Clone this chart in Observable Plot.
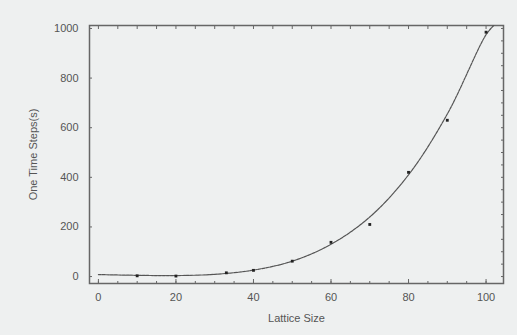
<!DOCTYPE html>
<html>
<head>
<meta charset="utf-8">
<script src="https://cdn.jsdelivr.net/npm/d3@7"></script>
<script src="https://cdn.jsdelivr.net/npm/@observablehq/plot@0.6"></script>
<style>
  html, body { margin: 0; padding: 0; background: #eef0f0; }
  #chart { width: 517px; height: 335px; }
</style>
</head>
<body>
<div id="chart"></div>
<script>
// Measured data points (lattice size, time steps)
const sizes = [10, 20, 33, 40, 50, 60, 70, 80, 90, 100];
const steps = [3, 2, 15, 25, 62, 138, 210, 420, 630, 985];

// Fitted curve
const curveX = [0, 10, 20, 30, 40, 50, 60, 70, 80, 90, 100, 102];
const curveY = [8, 5, 4, 9, 26, 62, 130, 240, 410, 655, 975, 1012];

const xMajor = [0, 20, 40, 60, 80, 100];
const xMinor = d3.range(0, 105, 5);
const yMajor = [0, 200, 400, 600, 800, 1000];
const yMinor = d3.range(0, 1050, 50);

const points = sizes.map((s, i) => ({size: s, steps: steps[i]}));
const curve = curveX.map((x, i) => ({x, y: curveY[i]}));

const textColor = "#555";
const frameColor = "#666";
const blank = () => "";

const chart = Plot.plot({
  width: 517,
  height: 335,
  marginLeft: 89,
  marginRight: 14,
  marginTop: 25,
  marginBottom: 52,
  style: {background: "#eef0f0", fontFamily: "Liberation Sans, Arial, sans-serif", fontSize: "11px", color: textColor},
  x: {domain: [-2.3, 104.5]},
  y: {domain: [-28, 1012]},
  marks: [
    Plot.frame({stroke: frameColor, strokeWidth: 1.5}),
    // bottom axis: labels + inward ticks
    Plot.axisX({anchor: "bottom", ticks: xMajor, tickSize: 0, tickPadding: 10, fill: textColor, tickFormat: "d",
      label: "Lattice Size", labelAnchor: "center", labelArrow: "none", labelOffset: 38}),
    Plot.axisX({anchor: "bottom", ticks: xMajor, tickSize: -4, tickFormat: blank, stroke: frameColor, label: null}),
    Plot.axisX({anchor: "bottom", ticks: xMinor, tickSize: -2, tickFormat: blank, stroke: frameColor, label: null}),
    Plot.axisX({anchor: "top", ticks: xMinor, tickSize: -3, tickFormat: blank, stroke: frameColor, label: null}),
    // left axis
    Plot.axisY({anchor: "left", ticks: yMajor, tickSize: 0, tickPadding: 11, fill: textColor, tickFormat: "d",
      label: "One Time Steps(s)", labelAnchor: "center", labelArrow: "none", labelOffset: 60}),
    Plot.axisY({anchor: "left", ticks: yMajor, tickSize: -3, tickFormat: blank, stroke: frameColor, label: null}),
    Plot.axisY({anchor: "right", ticks: yMinor, tickSize: -3, tickFormat: blank, stroke: frameColor, label: null}),
    // fitted curve
    Plot.line(curve, {x: "x", y: "y", curve: "catmull-rom", stroke: "#555", strokeWidth: 1.2, strokeDasharray: "3,1", clip: true}),
    // data points
    Plot.dot(points, {x: "size", y: "steps", symbol: "square", r: 1.6, fill: "#222", stroke: "none"})
  ]
});
document.getElementById("chart").appendChild(chart);
</script>
</body>
</html>
